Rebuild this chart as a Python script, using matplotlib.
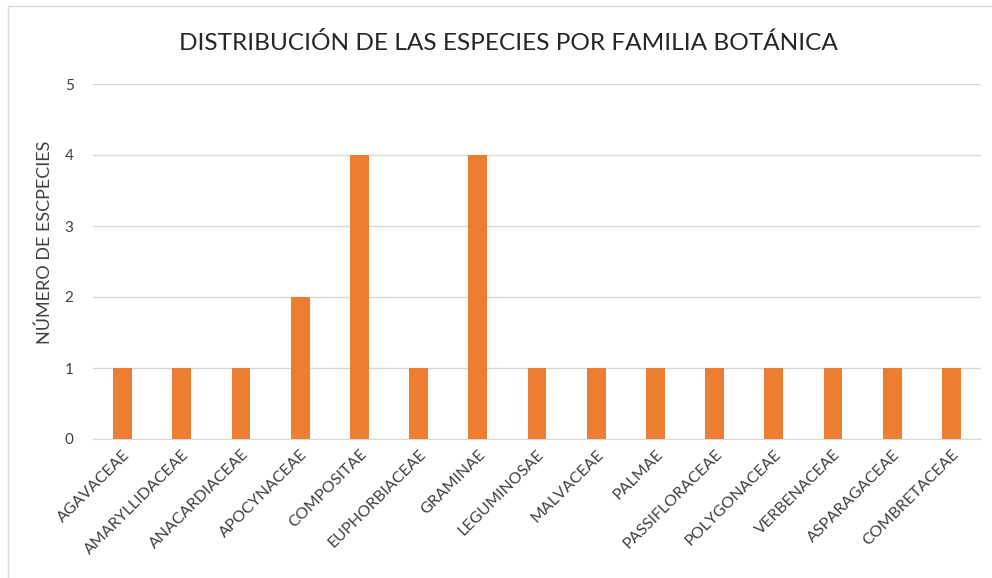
import matplotlib.pyplot as plt
from matplotlib.patches import Rectangle

plt.rcParams['font.family'] = ['Lato', 'DejaVu Sans']

familias = ['AGAVACEAE', 'AMARYLLIDACEAE', 'ANACARDIACEAE', 'APOCYNACEAE',
            'COMPOSITAE', 'EUPHORBIACEAE', 'GRAMINAE', 'LEGUMINOSAE',
            'MALVACEAE', 'PALMAE', 'PASSIFLORACEAE', 'POLYGONACEAE',
            'VERBENACEAE', 'ASPARAGACEAE', 'COMBRETACEAE']
especies = [1, 1, 1, 2, 4, 1, 4, 1, 1, 1, 1, 1, 1, 1, 1]

fig = plt.figure(figsize=(9.92, 5.78), dpi=100)
ax = fig.add_axes([93 / 992, 1 - 439 / 578, 888 / 992, 355 / 578])

# chart border like excel
fig.patches.append(Rectangle((8 / 992, -0.1), 1.2, 1 - 6 / 578 + 0.1,
                             transform=fig.transFigure, fill=False,
                             edgecolor='#d9d9d9', linewidth=1))

x = range(len(familias))
ax.bar(x, especies, width=0.32, color='#ED7D31', zorder=3)
ax.set_xlim(-0.5, len(familias) - 0.5)
ax.set_ylim(0, 5)
ax.set_yticks(range(6))
ax.grid(axis='y', color='#d9d9d9', linewidth=1, zorder=0)
ax.set_xticks(list(x))
ax.set_xticklabels(familias, rotation=45, ha='right', rotation_mode='anchor',
                   fontsize=11.5, color='#404040')
ax.tick_params(axis='y', labelsize=11, labelcolor='#404040', length=0, pad=14)
ax.tick_params(axis='x', length=0, pad=6)
for s in ['top', 'right', 'left']:
    ax.spines[s].set_visible(False)
ax.spines['bottom'].set_color('#d9d9d9')
ax.set_ylabel('NÚMERO DE ESCPECIES', fontsize=13, color='#404040')
ax.yaxis.set_label_coords(-0.045, 0.555)

fig.text(508 / 992, 1 - 43 / 578, 'DISTRIBUCIÓN DE LAS ESPECIES POR FAMILIA BOTÁNICA',
         ha='center', va='center', fontsize=17.6, color='#262626')

fig.savefig('out.png', dpi=100)
